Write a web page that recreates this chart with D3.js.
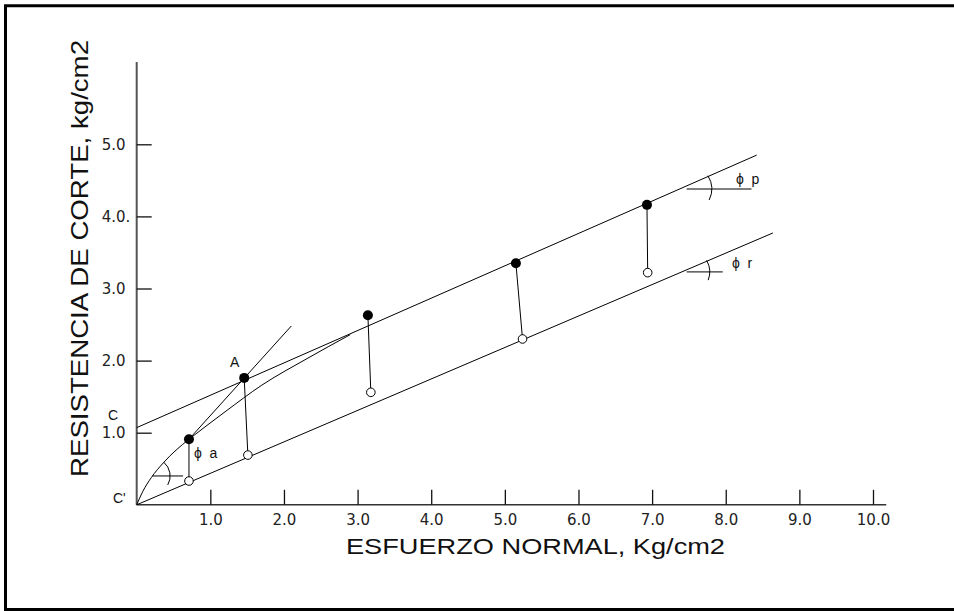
<!DOCTYPE html>
<html>
<head>
<meta charset="utf-8">
<script src="https://cdn.jsdelivr.net/npm/d3@7"></script>
<style>
  html, body { margin: 0; padding: 0; background: #fff; }
  svg { display: block; }
</style>
</head>
<body>
<div id="mainDiv"></div>
<script>
'use strict';

var myApp = {};

// tick values and their printed labels
myApp.xTicks = [1, 2, 3, 4, 5, 6, 7, 8, 9, 10];
myApp.xTickLabels = ["1.0", "2.0", "3.0", "4.0", "5.0", "6.0", "7.0", "8.0", "9.0", "10.0"];
myApp.yTicks = [1, 2, 3, 4, 5];
myApp.yTickLabels = ["1.0", "2.0", "3.0", "4.0.", "5.0"];

// peak (filled) and residual (open) shear strength readings
myApp.normalPeak = [0.71, 1.46, 3.14, 5.15, 6.93];
myApp.shearPeak = [0.91, 1.76, 2.63, 3.35, 4.16];
myApp.normalResidual = [0.71, 1.51, 3.18, 5.24, 6.94];
myApp.shearResidual = [0.33, 0.69, 1.56, 2.30, 3.22];

// envelopes
myApp.peakLine = [[0, 1.07], [8.42, 4.85]];
myApp.residualLine = [[0, 0], [8.64, 3.77]];
myApp.apparentLine = [[0.71, 0.91], [2.10, 2.48]];
myApp.originCurve = [[0, 0], [0.08, 0.18], [0.2, 0.38], [0.36, 0.58], [0.71, 0.91]];
myApp.curvedEnvelope = [[0.71, 0.91], [1.2, 1.29], [1.7, 1.66], [2.3, 2.02], [2.9, 2.36]];

myApp.appendSvg = function (element, w, h)
{
    var node = d3.select(element).append("svg")
        .attr("width", w)
        .attr("height", h);
    return node;
}

myApp.angleMark = function (svg, x, y, vx, vy, lineTo, r, a0, a1)
{
    // horizontal reference line from the vertex plus a small arc across both legs
    var px = x(vx), py = y(vy);
    svg.append("line")
        .attr("x1", px).attr("y1", py)
        .attr("x2", x(lineTo)).attr("y2", py)
        .attr("stroke", "#000").attr("stroke-width", 1);
    var arc = d3.path();
    arc.arc(px, py, r, a0 * Math.PI / 180, a1 * Math.PI / 180);
    svg.append("path")
        .attr("d", arc.toString().replace(/^M[^A]*L/, "M"))
        .attr("fill", "none")
        .attr("stroke", "#000").attr("stroke-width", 1);
}

myApp.run = function ()
{
    var svg = myApp.appendSvg("#mainDiv", 954, 611);

    // page frame (open on the right)
    svg.append("path")
        .attr("d", "M960,5.7H5.5V609.5H960")
        .attr("fill", "none")
        .attr("stroke", "#000")
        .attr("stroke-width", 3);

    var x = d3.scaleLinear().domain([0, 10]).range([136.7, 873]);
    var y = d3.scaleLinear().domain([0, 5]).range([504.8, 144.3]);

    var tickFont = "'DejaVu Sans', sans-serif";

    // axis lines
    svg.append("line")
        .attr("x1", x(0)).attr("y1", y(0))
        .attr("x2", x(10.18)).attr("y2", y(0))
        .attr("stroke", "#333").attr("stroke-width", 1.5);
    svg.append("line")
        .attr("x1", x(0)).attr("y1", y(0))
        .attr("x2", x(0)).attr("y2", y(6.14))
        .attr("stroke", "#555").attr("stroke-width", 2);

    var xAxis = d3.axisBottom(x)
        .tickValues(myApp.xTicks)
        .tickSize(-15)
        .tickSizeOuter(0)
        .tickPadding(10)
        .tickFormat(function (d, i) { return myApp.xTickLabels[i]; });
    var gx = svg.append("g")
        .attr("transform", "translate(0," + y(0) + ")")
        .call(xAxis);
    gx.select(".domain").remove();
    gx.selectAll(".tick line").attr("stroke", "#111").attr("stroke-width", 1.3);
    gx.selectAll(".tick text")
        .attr("font-family", tickFont)
        .attr("font-size", "15px")
        .attr("fill", "#222");

    var yAxis = d3.axisLeft(y)
        .tickValues(myApp.yTicks)
        .tickSize(-15)
        .tickSizeOuter(0)
        .tickPadding(0)
        .tickFormat(function (d, i) { return myApp.yTickLabels[i]; });
    var gy = svg.append("g")
        .attr("transform", "translate(" + x(0) + ",0)")
        .call(yAxis);
    gy.select(".domain").remove();
    gy.selectAll(".tick line").attr("stroke", "#111").attr("stroke-width", 1.3);
    gy.selectAll(".tick text")
        .attr("x", -35)
        .attr("text-anchor", "start")
        .attr("font-family", tickFont)
        .attr("font-size", "15px")
        .attr("fill", "#222");

    // axis titles (wide lettering, stretched to the span seen on the original)
    svg.append("text")
        .text("ESFUERZO NORMAL, Kg/cm2")
        .attr("x", 346).attr("y", 554)
        .attr("textLength", 379)
        .attr("lengthAdjust", "spacingAndGlyphs")
        .attr("font-family", "'Liberation Sans', Arial, sans-serif")
        .attr("font-size", "22px")
        .attr("fill", "#111");
    svg.append("text")
        .text("RESISTENCIA DE CORTE, kg/cm2")
        .attr("transform", "translate(88,477) rotate(-90)")
        .attr("textLength", 437)
        .attr("lengthAdjust", "spacingAndGlyphs")
        .attr("font-family", "'Liberation Sans', Arial, sans-serif")
        .attr("font-size", "24px")
        .attr("fill", "#111");

    var line = d3.line()
        .x(function (d) { return x(d[0]); })
        .y(function (d) { return y(d[1]); });
    var curve = d3.line()
        .x(function (d) { return x(d[0]); })
        .y(function (d) { return y(d[1]); })
        .curve(d3.curveMonotoneX);

    var lines = [myApp.peakLine, myApp.residualLine, myApp.apparentLine];
    svg.selectAll("path.env")
        .data(lines)
        .enter()
        .append("path")
            .attr("class", "env")
            .attr("d", line)
            .attr("fill", "none")
            .attr("stroke", "#000")
            .attr("stroke-width", 1);

    svg.selectAll("path.curve")
        .data([myApp.originCurve, myApp.curvedEnvelope])
        .enter()
        .append("path")
            .attr("class", "curve")
            .attr("d", curve)
            .attr("fill", "none")
            .attr("stroke", "#000")
            .attr("stroke-width", 1);

    // links peak -> residual
    svg.selectAll("line.link")
        .data(myApp.normalPeak)
        .enter()
        .append("line")
            .attr("class", "link")
            .attr("x1", function (d) { return x(d); })
            .attr("y1", function (d, i) { return y(myApp.shearPeak[i]); })
            .attr("x2", function (d, i) { return x(myApp.normalResidual[i]); })
            .attr("y2", function (d, i) { return y(myApp.shearResidual[i]); })
            .attr("stroke", "#000")
            .attr("stroke-width", 1);

    svg.selectAll("circle.res")
        .data(myApp.normalResidual)
        .enter()
        .append("circle")
            .attr("class", "res")
            .attr("cx", function (d) { return x(d); })
            .attr("cy", function (d, i) { return y(myApp.shearResidual[i]); })
            .attr("r", 4.3)
            .attr("fill", "#fff")
            .attr("stroke", "#000")
            .attr("stroke-width", 1);

    svg.selectAll("circle.peak")
        .data(myApp.normalPeak)
        .enter()
        .append("circle")
            .attr("class", "peak")
            .attr("cx", function (d) { return x(d); })
            .attr("cy", function (d, i) { return y(myApp.shearPeak[i]); })
            .attr("r", 5)
            .attr("fill", "#000");

    // friction angle marks
    myApp.angleMark(svg, x, y, 0.21, 0.40, 0.63, 18, -50, 30);
    myApp.angleMark(svg, x, y, 7.47, 4.38, 8.35, 25, -32, 26);
    myApp.angleMark(svg, x, y, 7.47, 3.23, 7.96, 23, -30, 21);

    var labelFont = "'Liberation Sans', Arial, sans-serif";
    var labels = [
        { t: "A", x: 230, y: 367 },
        { t: "C", x: 108, y: 420 },
        { t: "C'", x: 113, y: 503 },
        { t: "\u03D5  a", x: 194, y: 458 },
        { t: "\u03D5  p", x: 736, y: 184 },
        { t: "\u03D5  r", x: 732, y: 268 }
    ];
    svg.selectAll("text.lbl")
        .data(labels)
        .enter()
        .append("text")
            .attr("class", "lbl")
            .text(function (d) { return d.t; })
            .attr("x", function (d) { return d.x; })
            .attr("y", function (d) { return d.y; })
            .attr("xml:space", "preserve")
            .style("white-space", "pre")
            .attr("font-family", labelFont)
            .attr("font-size", "14px")
            .attr("fill", "#111");
}

window.onload = myApp.run;
</script>
</body>
</html>
